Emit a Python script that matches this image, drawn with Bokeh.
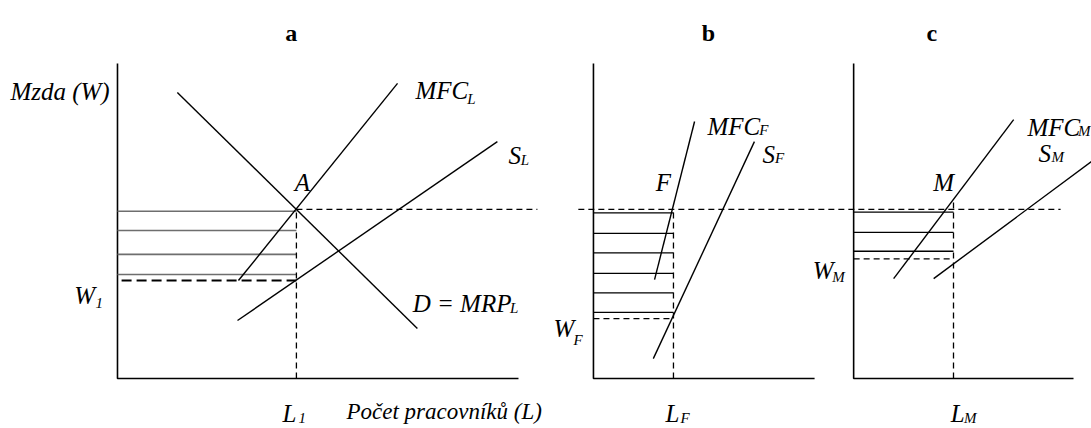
from bokeh.plotting import figure
from bokeh.models import Range1d
from bokeh.core.properties import value
from bokeh.embed import file_html
from bokeh.resources import INLINE

# ---------------- data (diagram units: L = number of workers, W = wage) -------------
panel_titles = ["a", "b", "c"]

# panel a - whole labour market (monopsony)
d_L = [19.0, 95.2]
d_W = [90.8, 15.9]
mfcL_L = [38.4, 88.9]
mfcL_W = [31.1, 93.7]
sL_L = [38.1, 120.6]
sL_W = [18.4, 75.2]
L1 = 56.8
W_eq = 53.7
W1 = 31.1
bars_a = [53.1, 47.0, 39.4, 33.0]

# panel b - women
mfcF_L = [19.4, 32.1]
mfcF_W = [31.4, 81.6]
sF_L = [19.0, 51.1]
sF_W = [6.3, 75.2]
LF = 25.4
WF = 19.0
bars_b = [52.6, 46.1, 39.9, 33.4, 27.2, 21.0]

# panel c - men
mfcM_L = [12.7, 50.8]
mfcM_W = [31.7, 82.2]
sM_L = [25.4, 75.9]
sM_W = [31.7, 69.2]
LM = 31.7
LM_top = 57.1
WM = 38.0
bars_c = [52.8, 46.4, 40.4]

# ---------------- layout -------------------------------------------------------------
X0 = {"a": 34.6, "b": 185.7, "c": 268.3}        # panel origins
XLEN = {"a": 127.3, "b": 70.2, "c": 69.8}       # x-axis lengths
YLEN = 100.0

FONT = value("Liberation Serif")
INK = "black"

p = figure(width=1091, height=428, output_backend="svg", toolbar_location=None,
           x_range=Range1d(-2.54, 343.81), y_range=Range1d(-15.87, 120.0),
           x_axis_type=None, y_axis_type=None, min_border=0)
p.outline_line_color = None
p.xgrid.visible = False
p.ygrid.visible = False
p.background_fill_color = "white"
p.border_fill_color = "white"


def line(panel, xs, ys, **kw):
    o = X0[panel]
    kw.setdefault("line_color", INK)
    kw.setdefault("line_width", 1.4)
    p.line([o + v for v in xs], ys, **kw)


def text(panel, x, y, t, size="25px", style="italic", align="left"):
    o = X0[panel]
    p.text(x=[o + x], y=[y], text=[t], text_font=FONT, text_font_size=size,
           text_font_style=style, text_align=align, text_baseline="alphabetic",
           text_color=INK)


def hbars(panel, levels, length, color=INK, width=1.3):
    o = X0[panel]
    p.segment(x0=[o] * len(levels), x1=[o + length] * len(levels), y0=levels, y1=levels,
              line_color=color, line_width=width)


# axes
for k in ["a", "b", "c"]:
    line(k, [0, 0, XLEN[k]], [YLEN, 0, 0], line_width=1.6)

# ---- panel a ----
hbars("a", bars_a, L1, color="#6e6e6e", width=1.6)
line("a", d_L, d_W)
line("a", mfcL_L, mfcL_W)
line("a", sL_L, sL_W)
line("a", [L1, 133.3], [W_eq, W_eq], line_dash="6 4", line_width=1.2)
line("a", [L1, L1], [0, W_eq], line_dash="6 4", line_width=1.3)
line("a", [1.3, L1], [W1, W1], line_dash="10 5", line_width=2.0)

# ---- panel b ----
hbars("b", bars_b, LF)
line("b", mfcF_L, mfcF_W)
line("b", sF_L, sF_W)
line("b", [LF, LF], [0, W_eq], line_dash="6 4", line_width=1.3)
line("b", [0, LF], [WF, WF], line_dash="6 4", line_width=1.2)
# common wage line through b and c
p.line([X0["b"] - 4.8, X0["c"] + 65.7], [W_eq, W_eq], line_color=INK,
       line_dash="6 4", line_width=1.2)

# ---- panel c ----
hbars("c", bars_c, LM)
line("c", mfcM_L, mfcM_W)
line("c", sM_L, sM_W)
line("c", [LM, LM], [0, LM_top], line_dash="6 4", line_width=1.3)
line("c", [0, LM], [WM, WM], line_dash="6 4", line_width=1.2)

# ---- titles ----
text("a", 55.2, 109.8, panel_titles[0], size="24px", style="bold", align="center")
text("b", 36.5, 109.8, panel_titles[1], size="24px", style="bold", align="center")
text("c", 24.8, 109.8, panel_titles[2], size="24px", style="bold", align="center")

SUB = "15px"
# ---- labels a ----
text("a", -34.0, 91.1, "Mzda (W)")
text("a", 94.6, 91.4, "MFC")
text("a", 111.0, 88.6, "L", size=SUB)
text("a", 124.1, 70.8, "S")
text("a", 128.0, 69.5, "L", size=SUB)
text("a", 58.7, 62.2, "A", align="center")
text("a", 93.7, 23.8, "D = MRP")
text("a", 124.6, 22.5, "L", size=SUB)
text("a", -13.7, 26.3, "W")
text("a", -7.0, 24.1, "1", size=SUB)
text("a", 52.4, -11.1, "L")
text("a", 57.5, -12.5, "1", size=SUB)
text("a", 72.7, -10.5, "Počet pracovníků (L)", size="23px")

# ---- labels b ----
text("b", 36.2, 80.0, "MFC")
text("b", 52.6, 79.0, "F", size=SUB)
text("b", 53.7, 71.1, "S")
text("b", 57.6, 70.0, "F", size=SUB)
text("b", 22.2, 62.2, "F", align="center")
text("b", -12.7, 15.9, "W")
text("b", -6.3, 12.1, "F", size=SUB)
text("b", 22.9, -11.1, "L")
text("b", 27.6, -12.5, "F", size=SUB)

# ---- labels c ----
text("c", 55.2, 79.7, "MFC")
text("c", 71.2, 78.7, "M", size=SUB)
text("c", 58.7, 71.4, "S")
text("c", 62.8, 70.3, "M", size=SUB)
text("c", 28.6, 62.2, "M", align="center")
text("c", -13.0, 34.3, "W")
text("c", -6.8, 32.2, "M", size=SUB)
text("c", 30.8, -11.1, "L")
text("c", 35.0, -12.5, "M", size=SUB)

open("out.html", "w").write(file_html(p, INLINE))
